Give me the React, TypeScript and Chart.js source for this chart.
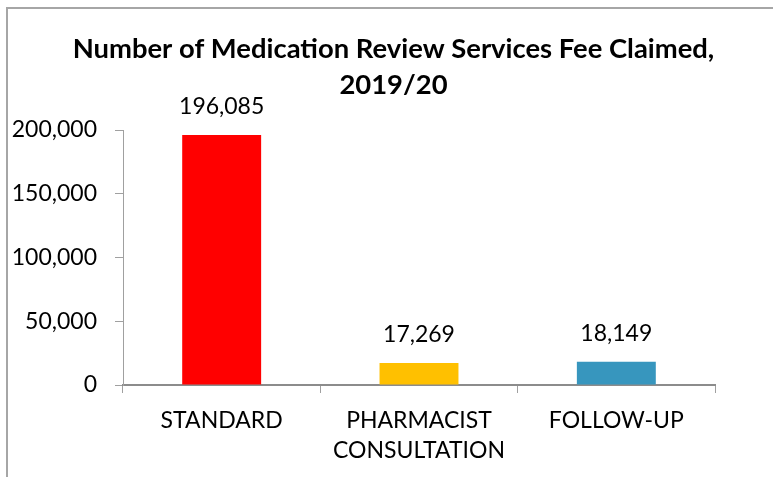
import React, { useEffect, useRef } from "react";
import { Chart, registerables } from "chart.js";

Chart.register(...registerables);

const categories: (string | string[])[] = ["STANDARD", ["PHARMACIST", "CONSULTATION"], "FOLLOW-UP"];
const values: number[] = [196085, 17269, 18149];
const barColors: string[] = ["#FF0000", "#FFC000", "#3796BE"];
const titleLines: string[] = ["Number of Medication Review Services Fee Claimed,", "2019/20"];
const yMax = 200000;
const yStep = 50000;

const FONT = "Lato, 'Open Sans', sans-serif";

const fmt = (v: number) => v.toLocaleString("en-US");

const borderPlugin = {
  id: "frameBorder",
  beforeDraw(chart: any) {
    const ctx = chart.ctx;
    ctx.save();
    ctx.fillStyle = "#ffffff";
    ctx.fillRect(0, 0, chart.width, chart.height);
    ctx.strokeStyle = "#A6A6A6";
    ctx.lineWidth = 2;
    ctx.beginPath();
    ctx.moveTo(7, chart.height + 5);
    ctx.lineTo(7, 8);
    ctx.lineTo(chart.width + 5, 8);
    ctx.stroke();
    ctx.restore();
  },
};

const titlePlugin = {
  id: "chartTitle",
  afterDraw(chart: any) {
    const ctx = chart.ctx;
    ctx.save();
    ctx.font = `bold 27.4px ${FONT}`;
    ctx.fillStyle = "#000000";
    ctx.textAlign = "center";
    ctx.textBaseline = "middle";
    const cx = (7 + chart.width + 7) / 2;
    titleLines.forEach((line, i) => {
      ctx.fillText(line, cx, 49 + i * 36);
    });
    ctx.restore();
  },
};

const labelPlugin = {
  id: "valueLabels",
  afterDatasetsDraw(chart: any) {
    const ctx = chart.ctx;
    const meta = chart.getDatasetMeta(0);
    ctx.save();
    ctx.font = `23px ${FONT}`;
    ctx.fillStyle = "#000000";
    ctx.textAlign = "center";
    ctx.textBaseline = "middle";
    meta.data.forEach((bar: any, i: number) => {
      ctx.fillText(fmt(values[i]), bar.x, bar.y - 28);
    });
    ctx.restore();
  },
};

export default function App() {
  const ref = useRef<HTMLCanvasElement>(null);
  useEffect(() => {
    document.body.style.margin = "0";
    const chart = new Chart(ref.current!, {
      type: "bar",
      data: {
        labels: categories,
        datasets: [
          {
            data: values,
            backgroundColor: barColors,
            borderWidth: 0,
            barPercentage: 0.4,
            categoryPercentage: 1,
          },
        ],
      },
      options: {
        animation: false,
        responsive: false,
        layout: { padding: { left: 0, right: 58, top: 130, bottom: 0 } },
        plugins: {
          legend: { display: false },
          tooltip: { enabled: false },
          title: { display: false },
        },
        scales: {
          x: {
            grid: {
              display: true,
              drawOnChartArea: false,
              drawTicks: true,
              tickLength: 8,
              color: "#A0A0A0",
              offset: true,
            },
            border: { display: true, color: "#8C8C8C", width: 2 },
            ticks: {
              color: "#000000",
              font: { family: FONT, size: 23, lineHeight: 1.3 },
              padding: 13,
              maxRotation: 0,
              autoSkip: false,
            },
            afterFit: (scale: any) => {
              scale.height = 92;
            },
          },
          y: {
            min: 0,
            max: yMax,
            grid: {
              display: true,
              drawOnChartArea: false,
              drawTicks: true,
              tickLength: 8,
              color: "#A0A0A0",
            },
            border: { display: true, color: "#A0A0A0", width: 1 },
            ticks: {
              stepSize: yStep,
              color: "#000000",
              font: { family: FONT, size: 23 },
              padding: 18,
              callback: (v: any) => fmt(Number(v)),
            },
            afterFit: (scale: any) => {
              scale.width = 123;
            },
          },
        },
      },
      plugins: [borderPlugin, titlePlugin, labelPlugin],
    });
    return () => chart.destroy();
  }, []);
  return <canvas ref={ref} width={773} height={477} style={{ display: "block" }} />;
}
